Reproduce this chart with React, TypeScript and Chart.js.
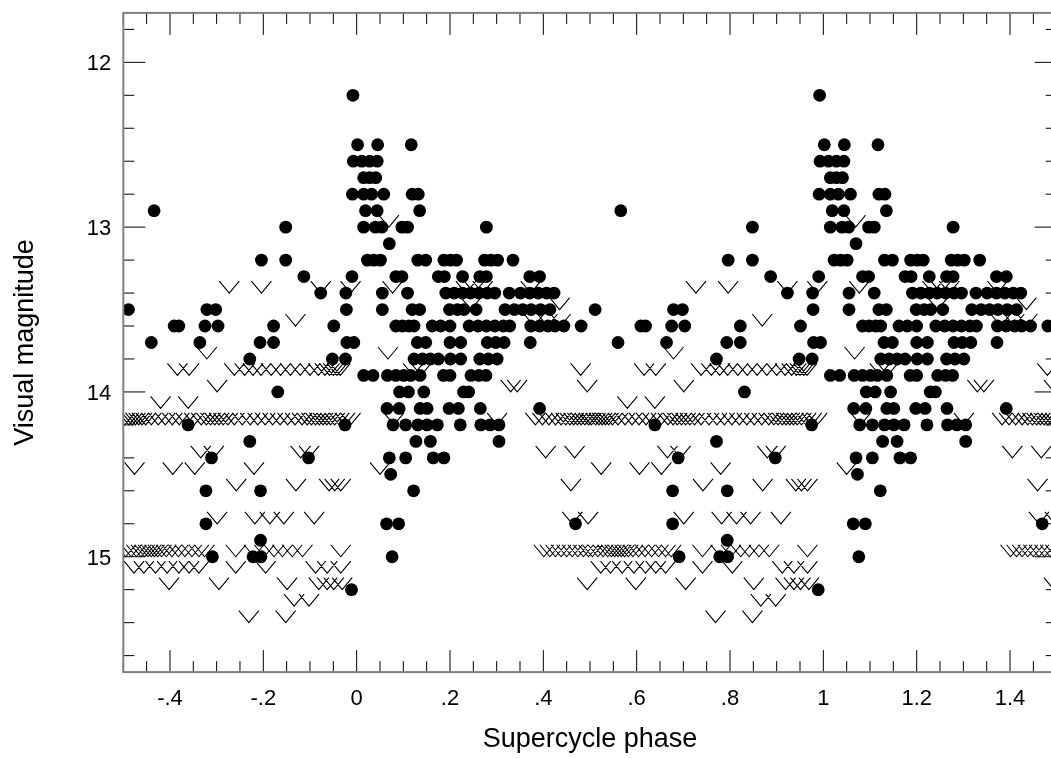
import React, { useEffect, useRef } from 'react';
import { Chart, registerables } from 'chart.js';

Chart.register(...registerables);

// ---- axes ----
const X_MIN = -0.5;
const X_MAX = 1.5;
const Y_MIN = 11.7;
const Y_MAX = 15.7;
const X_MINOR_STEP = 0.05;
const Y_MINOR_STEP = 0.2;

const xTickValues = [-0.4, -0.2, 0, 0.2, 0.4, 0.6, 0.8, 1, 1.2, 1.4];
const xTickLabels = ['-.4', '-.2', '0', '.2', '.4', '.6', '.8', '1', '1.2', '1.4'];
const yTickValues = [12, 13, 14, 15];
const yTickLabels = ['12', '13', '14', '15'];

const xTitle = 'Supercycle phase';
const yTitle = 'Visual magnitude';

// ---- detections (filled dots): magnitude rows and the phases observed at each ----
const detectionMags = [
  12.2, 12.5, 12.6, 12.7, 12.8, 12.9, 13.0, 13.1, 13.2, 13.3, 13.4, 13.5, 13.6, 13.7,
  13.8, 13.9, 14.0, 14.1, 14.2, 14.3, 14.4, 14.5, 14.6, 14.8, 14.9, 15.0, 15.2,
];
const detectionPhases = [
  [-0.008],
  [0.002, 0.045, 0.117],
  [-0.007, 0.011, 0.028, 0.044],
  [0.015, 0.028, 0.041],
  [-0.009, 0.015, 0.032, 0.058, 0.119, 0.132],
  [-0.434, 0.019, 0.044, 0.135],
  [-0.152, 0.015, 0.04, 0.054, 0.097, 0.109, 0.278],
  [0.07],
  [-0.204, -0.152, 0.023, 0.037, 0.051, 0.131, 0.148, 0.187, 0.201, 0.214, 0.274, 0.288, 0.302, 0.335],
  [-0.113, -0.01, 0.084, 0.097, 0.175, 0.188, 0.227, 0.264, 0.278, 0.371, 0.392],
  [-0.077, -0.023, 0.055, 0.109, 0.191, 0.209, 0.227, 0.244, 0.262, 0.28, 0.296, 0.327, 0.351, 0.371, 0.389, 0.407, 0.423],
  [-0.489, -0.321, -0.302, -0.022, 0.055, 0.119, 0.135, 0.199, 0.216, 0.23, 0.256, 0.318, 0.338, 0.356, 0.374, 0.394, 0.414],
  [-0.391, -0.381, -0.325, -0.297, -0.178, -0.049, 0.084, 0.098, 0.112, 0.123, 0.162, 0.18, 0.2, 0.241, 0.26, 0.278, 0.296, 0.314, 0.328, 0.373, 0.392, 0.41, 0.425, 0.444, 0.481],
  [-0.44, -0.336, -0.207, -0.178, -0.021, -0.006, 0.13, 0.148, 0.2, 0.223, 0.28, 0.298, 0.316, 0.372],
  [-0.229, -0.052, -0.024, 0.123, 0.141, 0.158, 0.175, 0.201, 0.223, 0.264, 0.282, 0.301],
  [0.015, 0.035, 0.066, 0.084, 0.101, 0.116, 0.136, 0.186, 0.2, 0.245, 0.262, 0.277],
  [-0.169, 0.092, 0.111, 0.144, 0.229, 0.24],
  [0.065, 0.091, 0.136, 0.151, 0.198, 0.218, 0.265, 0.392],
  [-0.361, -0.025, 0.078, 0.105, 0.131, 0.151, 0.173, 0.222, 0.266, 0.286, 0.305],
  [-0.229, 0.127, 0.158, 0.305],
  [-0.311, -0.103, 0.07, 0.105, 0.164, 0.187],
  [0.073],
  [-0.323, -0.206, 0.122],
  [-0.323, 0.064, 0.09, 0.469],
  [-0.206],
  [-0.309, -0.222, -0.205, 0.076],
  [-0.011],
];

// ---- upper limits ("fainter than", V marks): magnitude rows and phases ----
const limitMags = [
  13.0, 13.4, 13.5, 13.6, 13.8, 13.9, 14.0, 14.1, 14.2, 14.4, 14.5, 14.6, 14.8, 15.0, 15.1, 15.2, 15.3, 15.4,
];
const limitPhases = [
  [0.069],
  [-0.273, -0.204, -0.077, -0.013, 0.077, 0.234, 0.252, 0.27, 0.373],
  [0.245, 0.435],
  [-0.131, 0.38, 0.409, 0.437],
  [-0.321, 0.067],
  [-0.384, -0.359, -0.262, -0.24, -0.222, -0.205, -0.183, -0.163, -0.142, -0.121, -0.1, -0.082, -0.068, -0.058, -0.05, -0.042, -0.035, 0.121, 0.138, 0.48],
  [-0.299, 0.33, 0.344, 0.494],
  [-0.42, -0.361],
  [-0.497, -0.488, -0.481, -0.474, -0.467, -0.46, -0.452, -0.44, -0.425, -0.41, -0.395, -0.38, -0.366, -0.348, -0.333, -0.322,
    -0.313, -0.304, -0.295, -0.286, -0.276, -0.262, -0.245, -0.228, -0.212, -0.196, -0.18, -0.164, -0.148, -0.132, -0.117, -0.106,
    -0.097, -0.088, -0.08, -0.072, -0.064, -0.056, -0.047, -0.037, -0.025, -0.013, 0.08, 0.301,
    0.383, 0.398, 0.412, 0.426, 0.438, 0.448, 0.457, 0.465, 0.473, 0.481, 0.489, 0.497],
  [-0.334, -0.306, -0.12, -0.102, 0.405, 0.467],
  [-0.476, -0.394, -0.347, -0.22, 0.05],
  [-0.258, -0.13, -0.059, -0.047, -0.034, 0.459],
  [-0.299, -0.218, -0.186, -0.156, -0.091, 0.462, 0.496],
  [-0.495, -0.483, -0.472, -0.462, -0.454, -0.447, -0.44, -0.433, -0.426, -0.418, -0.408, -0.396, -0.382, -0.368, -0.353, -0.338,
    -0.326, -0.259, -0.22, -0.198, -0.177, -0.159, -0.138, -0.116, -0.034,
    0.401, 0.414, 0.426, 0.438, 0.45, 0.462, 0.474, 0.486, 0.497],
  [-0.477, -0.456, -0.431, -0.406, -0.381, -0.359, -0.338, -0.259, -0.195, -0.088, -0.063, -0.034],
  [-0.402, -0.295, -0.149, -0.081, -0.063, -0.049, -0.031, 0.494],
  [-0.134, -0.102],
  [-0.231, -0.152],
];

// the phase-folded light curve is shown over two supercycles
const cycleOffsets = [0, 1];

function buildPoints(mags: number[], phases: number[][]) {
  const pts: { x: number; y: number }[] = [];
  mags.forEach((m, i) => {
    phases[i].forEach((p) => {
      cycleOffsets.forEach((c) => pts.push({ x: p + c, y: m }));
    });
  });
  return pts;
}

const CANVAS_W = 1070;
const CANVAS_H = 758;
const FONT = '"Liberation Sans", Arial, Helvetica, sans-serif';
const V_HALF_WIDTH = 10;
const V_HEIGHT = 12;

// draws each upper-limit point as an open "V" whose apex sits on the value
const vMarkPlugin = {
  id: 'vMarks',
  afterDatasetsDraw(chart: any) {
    const { ctx, chartArea: a } = chart;
    const meta = chart.getDatasetMeta(1);
    ctx.save();
    ctx.beginPath();
    ctx.rect(a.left, a.top, a.right - a.left, a.bottom - a.top);
    ctx.clip();
    ctx.strokeStyle = '#000';
    ctx.lineWidth = 1.1;
    ctx.lineJoin = 'miter';
    ctx.beginPath();
    meta.data.forEach((el: any) => {
      const x = el.x;
      const y = el.y;
      ctx.moveTo(x - V_HALF_WIDTH, y - V_HEIGHT);
      ctx.lineTo(x, y);
      ctx.lineTo(x + V_HALF_WIDTH, y - V_HEIGHT);
    });
    ctx.stroke();
    ctx.restore();
  },
};

const framePlugin = {
  id: 'frameTicks',
  afterDatasetsDraw(chart: any) {
    const { ctx, chartArea: a, scales } = chart;
    const xs = scales.x;
    const ys = scales.y;
    ctx.save();
    // inward ticks
    ctx.strokeStyle = '#000';
    ctx.lineWidth = 1;
    ctx.beginPath();
    const nx = Math.round((X_MAX - X_MIN) / X_MINOR_STEP);
    for (let i = 0; i <= nx; i++) {
      const v = X_MIN + i * X_MINOR_STEP;
      const major = Math.abs(v * 5 - Math.round(v * 5)) < 1e-6;
      const len = major ? 22 : 11;
      const px = xs.getPixelForValue(v);
      ctx.moveTo(px, a.top);
      ctx.lineTo(px, a.top + len);
      ctx.moveTo(px, a.bottom);
      ctx.lineTo(px, a.bottom - len);
    }
    const ny = Math.round((Y_MAX - Y_MIN) / Y_MINOR_STEP);
    for (let i = 0; i <= ny; i++) {
      const v = Y_MIN + 0.1 + i * Y_MINOR_STEP;
      if (v > Y_MAX) break;
      const major = Math.abs(v - Math.round(v)) < 1e-6;
      const len = major ? 22 : 11;
      const py = ys.getPixelForValue(v);
      ctx.moveTo(a.left, py);
      ctx.lineTo(a.left + len, py);
      ctx.moveTo(a.right, py);
      ctx.lineTo(a.right - len, py);
    }
    ctx.stroke();

    // frame
    ctx.strokeStyle = '#808080';
    ctx.lineWidth = 2;
    ctx.strokeRect(a.left, a.top, a.right - a.left, a.bottom - a.top);

    // tick labels
    ctx.fillStyle = '#000';
    ctx.font = `22px ${FONT}`;
    ctx.textAlign = 'center';
    ctx.textBaseline = 'alphabetic';
    xTickValues.forEach((v, i) => {
      ctx.fillText(xTickLabels[i], xs.getPixelForValue(v), a.bottom + 32.5);
    });
    ctx.textAlign = 'right';
    yTickValues.forEach((v, i) => {
      ctx.fillText(yTickLabels[i], a.left - 12, ys.getPixelForValue(v) + 8);
    });

    // axis titles
    ctx.font = `27px ${FONT}`;
    ctx.textAlign = 'center';
    ctx.fillText(xTitle, (a.left + a.right) / 2, 747);
    ctx.save();
    ctx.translate(33.3, (a.top + a.bottom) / 2);
    ctx.rotate(-Math.PI / 2);
    ctx.fillText(yTitle, 0, 0);
    ctx.restore();

    ctx.restore();
  },
};

export default function App() {
  const ref = useRef<HTMLCanvasElement | null>(null);

  useEffect(() => {
    if (!ref.current) return;
    const chart = new Chart(ref.current, {
      type: 'scatter',
      data: {
        datasets: [
          {
            label: 'Detections',
            data: buildPoints(detectionMags, detectionPhases),
            pointStyle: 'circle',
            pointRadius: 6.4,
            backgroundColor: '#000',
            borderColor: '#000',
            borderWidth: 0,
            showLine: false,
          },
          {
            label: 'Upper limits',
            data: buildPoints(limitMags, limitPhases),
            pointRadius: 0,
            backgroundColor: '#000',
            borderColor: '#000',
            showLine: false,
          },
        ],
      },
      options: {
        responsive: false,
        animation: false,
        events: [],
        layout: {
          padding: {
            left: 123.3,
            top: 12.9,
            right: CANVAS_W - 1056.7,
            bottom: CANVAS_H - 672.1,
          },
        },
        plugins: {
          legend: { display: false },
          tooltip: { enabled: false },
          title: { display: false },
        },
        scales: {
          x: { type: 'linear', min: X_MIN, max: X_MAX, display: false },
          y: { type: 'linear', min: Y_MIN, max: Y_MAX, reverse: true, display: false },
        },
      },
      plugins: [vMarkPlugin, framePlugin],
    });
    return () => chart.destroy();
  }, []);

  return (
    <div
      style={{
        position: 'fixed',
        left: 0,
        top: 0,
        width: 1051,
        height: 758,
        overflow: 'hidden',
        background: '#fff',
      }}
    >
      <canvas ref={ref} width={CANVAS_W} height={CANVAS_H} style={{ display: 'block' }} />
    </div>
  );
}
